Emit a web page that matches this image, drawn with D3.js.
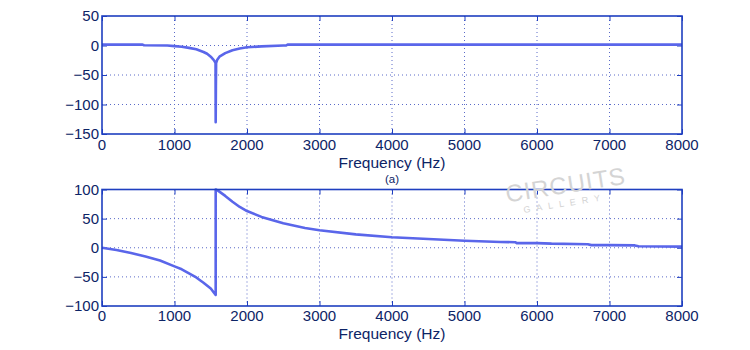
<!DOCTYPE html>
<html><head><meta charset="utf-8">
<script src="https://cdn.jsdelivr.net/npm/d3@7"></script>
<style>body{margin:0;background:#fff}svg{display:block}</style>
</head><body>
<svg id="c" width="750" height="350"></svg>
<script>
const magFreq = [0,560,580,900,1000,1100,1200,1300,1400,1450,1500,1530,1555,1566,1568,1571,1574,1590,1620,1700,1800,1900,2000,2200,2500,2540,2560,8000];
const magVals = [1.5,1.5,0.5,0,-1,-2,-4,-6.5,-11,-14,-19,-23,-27,-30,-130,-68,-30,-24,-19,-13,-8,-5,-3,-1.5,0,0,1.5,1.5];
const phFreq = [0,200,400,600,800,1000,1100,1200,1300,1400,1500,1568,1568,1600,1700,1800,1900,2000,2200,2500,2800,3000,3500,4000,4500,5000,5500,5700,5720,6000,6200,6700,6750,7000,7350,7400,8000];
const phVals = [0,-4,-9,-15,-22,-32,-37,-44,-51,-60,-70,-81,100,98,89,79,70,63,53,42,34,30,23,18,15,12,10,9.5,8,8,7,6,4.5,4.5,4,2.5,2];
const xTicks = [0,1000,2000,3000,4000,5000,6000,7000,8000];
const magTicks = [50,0,-50,-100,-150];
const phTicks = [100,50,0,-50,-100];
const xLabel = "Frequency (Hz)";

const svg = d3.select("#c");
const axisCol = "#1f3fc0", textCol = "#0d2466", lineCol = "#5a66ea", gridCol = "#5a6ac8";
const font = "'Liberation Sans', Arial, Helvetica, sans-serif";
const x = d3.scaleLinear().domain([0,8000]).range([102,682]);

function panel(top, bottom, ydom, yticks, fx, fy, tickBase, labBase) {
  const y = d3.scaleLinear().domain(ydom).range([bottom, top]);
  const g = svg.append("g");
  g.selectAll(".gx").data(xTicks.slice(1,-1)).join("line")
    .attr("x1", d=>x(d)).attr("x2", d=>x(d)).attr("y1", top).attr("y2", bottom)
    .attr("stroke", gridCol).attr("stroke-width", 1).attr("stroke-dasharray", "1,3");
  g.selectAll(".gy").data(yticks.slice(1,-1)).join("line")
    .attr("y1", d=>y(d)).attr("y2", d=>y(d)).attr("x1", 102).attr("x2", 682)
    .attr("stroke", gridCol).attr("stroke-width", 1).attr("stroke-dasharray", "1,3");
  const ax = g.append("g");
  ax.append("g").attr("transform", `translate(0,${bottom})`)
    .call(d3.axisTop(x).tickValues(xTicks).tickSize(5).tickFormat(""));
  ax.append("g").attr("transform", `translate(0,${top})`)
    .call(d3.axisBottom(x).tickValues(xTicks).tickSize(5).tickFormat(""));
  ax.append("g").attr("transform", `translate(102,0)`)
    .call(d3.axisRight(y).tickValues(yticks).tickSize(5).tickFormat(""));
  ax.append("g").attr("transform", `translate(682,0)`)
    .call(d3.axisLeft(y).tickValues(yticks).tickSize(5).tickFormat(""));
  ax.selectAll("path.domain").remove();
  ax.selectAll("line").attr("stroke", axisCol).attr("stroke-width", 1);
  const line = d3.line().x((d,i)=>x(fx[i])).y((d,i)=>y(fy[i]));
  g.append("path").datum(fy).attr("d", line).attr("fill","none")
    .attr("stroke", lineCol).attr("stroke-width", 2.6).attr("stroke-linejoin","round");
  g.append("rect").attr("x",102).attr("y",top).attr("width",580).attr("height",bottom-top)
    .attr("fill","none").attr("stroke",axisCol).attr("stroke-width",1.6);
  g.selectAll(".xl").data(xTicks).join("text")
    .attr("x", d=>x(d)).attr("y", tickBase).attr("text-anchor","middle")
    .attr("font-family",font).attr("font-size",15).attr("fill",textCol)
    .text(d=>d);
  g.selectAll(".yl").data(yticks).join("text")
    .attr("x", 99).attr("y", d=>y(d)).attr("dy","0.36em").attr("text-anchor","end")
    .attr("font-family",font).attr("font-size",15).attr("fill",textCol)
    .text(d=>d3.format("d")(d));
  g.append("text").attr("x",392).attr("y",labBase).attr("text-anchor","middle")
    .attr("font-family",font).attr("font-size",15.5).attr("fill",textCol).text(xLabel);
  return g;
}

panel(16, 134, [-150,50], magTicks, magFreq, magVals, 149.5, 168);
panel(189.5, 306, [-100,100], phTicks, phFreq, phVals, 321, 339);

svg.append("text").attr("x",392).attr("y",183).attr("text-anchor","middle")
  .attr("font-family",font).attr("font-size",11.5).attr("fill",textCol).text("(a)");

// watermark
const wm = svg.append("g").attr("transform","translate(567,193) rotate(-9)");
wm.append("text").attr("text-anchor","middle").attr("font-family",font).attr("font-size",24)
  .attr("fill","#d4d4d4").attr("letter-spacing",1).text("CIRCUITS");
wm.append("text").attr("y",13).attr("x",-4).attr("text-anchor","middle").attr("font-family",font).attr("font-size",9)
  .attr("fill","#d4d4d4").attr("letter-spacing",6).text("GALLERY");
</script>
</body></html>
